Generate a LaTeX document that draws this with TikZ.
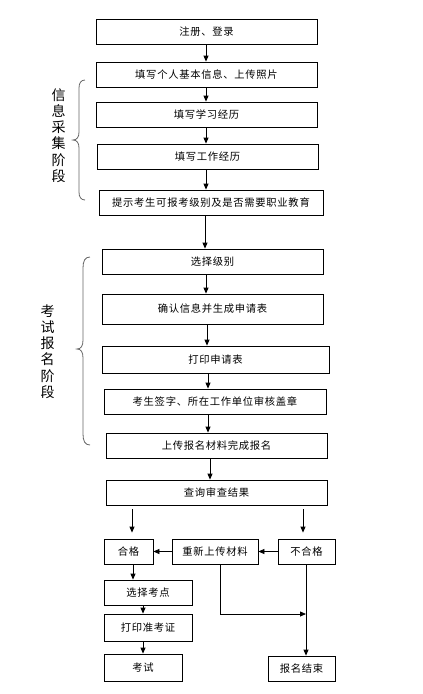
\documentclass[tikz,border=0pt]{standalone}
\usepackage{fontspec}
\setmainfont{Noto Sans CJK SC}
\newfontfamily\boxfont[LetterSpace=7]{Noto Sans CJK SC}
\usetikzlibrary{arrows.meta}
\begin{document}
\begin{tikzpicture}[x=1pt,y=-1pt,
  box/.style={draw=black,line width=0.8pt,inner sep=0pt,font=\boxfont\fontsize{10.3}{12}\selectfont,anchor=center},
  arr/.style={line width=0.8pt,-{Triangle[length=6pt,width=5pt]}},
  ln/.style={line width=0.8pt},
  bracestyle/.style={draw=black!60,line width=0.8pt},
  vlabel/.style={align=center,inner sep=0pt,font=\fontsize{14}{16.3}\selectfont}]
\useasboundingbox (0,0) rectangle (423,694);
\fill[white] (0,0) rectangle (423,694);
% boxes
\node[box,minimum width=221pt,minimum height=25pt] (reg) at (206.5,31.5) {注册、登录};
\node[box,minimum width=221pt,minimum height=25pt] (info) at (206.5,74.5) {填写个人基本信息、上传照片};
\node[box,minimum width=221pt,minimum height=25pt] (study) at (206.5,114.5) {填写学习经历};
\node[box,minimum width=221pt,minimum height=25pt] (work) at (207.5,156.5) {填写工作经历};
\node[box,minimum width=224pt,minimum height=25pt] (hint) at (211,202.5) {提示考生可报考级别及是否需要职业教育};
\node[box,minimum width=221pt,minimum height=25pt] (level) at (212.5,261.5) {选择级别};
\node[box,minimum width=221pt,minimum height=30pt] (confirm) at (212.5,309) {确认信息并生成申请表};
\node[box,minimum width=227pt,minimum height=27pt] (print) at (215.5,359.5) {打印申请表};
\node[box,minimum width=222pt,minimum height=25pt] (sign) at (215,401.5) {考生签字、所在工作单位审核盖章};
\node[box,minimum width=221pt,minimum height=25pt] (upload) at (216.5,445.5) {上传报名材料完成报名};
\node[box,minimum width=221pt,minimum height=25pt] (query) at (216.5,492.5) {查询审查结果};
\node[box,minimum width=49pt,minimum height=25pt] (pass) at (128.5,551.5) {合格};
\node[box,minimum width=86pt,minimum height=25pt] (reup) at (215,551.5) {重新上传材料};
\node[box,minimum width=57pt,minimum height=25pt] (fail) at (306.5,551.5) {不合格};
\node[box,minimum width=88pt,minimum height=25pt] (site) at (148,592.5) {选择考点};
\node[box,minimum width=88pt,minimum height=27pt] (ticket) at (148,627.5) {打印准考证};
\node[box,minimum width=78pt,minimum height=27pt] (exam) at (143,667.5) {考试};
\node[box,minimum width=67pt,minimum height=25pt] (end) at (301.5,668.5) {报名结束};
% vertical labels
\node[vlabel] (lab1) at (58.5,135.5) {信\\息\\采\\集\\阶\\段};
\node[vlabel] (lab2) at (47.5,351.5) {考\\试\\报\\名\\阶\\段};
% braces
\draw[bracestyle] (85,80) .. controls (81,80) and (79,83) .. (79,88) -- (79,132) .. controls (79,137) and (77,140) .. (73,140) .. controls (77,140) and (79,143) .. (79,148) -- (79,192) .. controls (79,197) and (81,200) .. (85,200);
\draw[bracestyle] (90,257) .. controls (85,257) and (83,261) .. (83,268) -- (83,340) .. controls (83,346) and (81,349) .. (77,349) .. controls (81,349) and (83,352) .. (83,358) -- (83,434) .. controls (83,441) and (85,445) .. (90,445);
% x positions
\coordinate (xa) at (206,0);
\coordinate (xb) at (205,0);
\coordinate (xc) at (207,0);
\coordinate (xd) at (208,0);
\coordinate (xe) at (210,0);
\coordinate (xl) at (132,0);
\coordinate (xr) at (303,0);
\coordinate (xp) at (133,0);
\coordinate (xs) at (143,0);
\coordinate (xf) at (306,0);
\coordinate (xu) at (220,0);
\coordinate (turn) at (220,614);
\coordinate (meet) at (306,614);
% arrows
\draw[arr] (reg.south -| xa) -- (info.north -| xa);
\draw[arr] (info.south -| xa) -- (study.north -| xa);
\draw[arr] (study.south -| xa) -- (work.north -| xa);
\draw[arr] (work.south -| xa) -- (hint.north -| xa);
\draw[arr] (hint.south -| xb) -- (level.north -| xb);
\draw[arr] (level.south -| xa) -- (confirm.north -| xa);
\draw[arr] (confirm.south -| xc) -- (print.north -| xc);
\draw[arr] (print.south -| xd) -- (sign.north -| xd);
\draw[arr] (sign.south -| xd) -- (upload.north -| xd);
\draw[arr] (upload.south -| xe) -- (query.north -| xe);
\draw[arr,shorten <=4pt,shorten >=6pt] (query.south -| xl) -- (pass.north -| xl);
\draw[arr,shorten <=4pt,shorten >=6pt] (query.south -| xr) -- (fail.north -| xr);
\draw[arr] (fail.west) -- (reup.east);
\draw[arr] (reup.west) -- (pass.east);
\draw[arr] (pass.south -| xp) -- (site.north -| xp);
\draw[arr] (site.south -| xs) -- (ticket.north -| xs);
\draw[arr] (ticket.south -| xs) -- (exam.north -| xs);
\draw[arr] (fail.south -| xf) -- (end.north -| xf);
\draw[arr] (reup.south -| xu) -- (turn) -- (meet);
\end{tikzpicture}
\end{document}
